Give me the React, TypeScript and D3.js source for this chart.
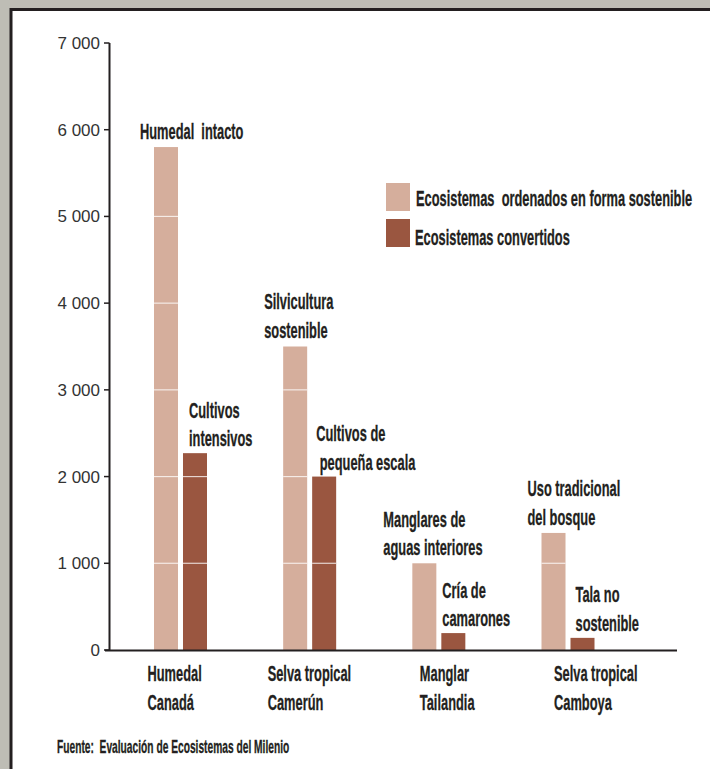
import { useLayoutEffect, useRef, useState } from "react";
import * as d3 from "d3";

// categories (two-line labels under the axis)
const sites = ["Humedal Canadá", "Selva tropical Camerún", "Manglar Tailandia", "Selva tropical Camboya"];
const siteLines = [["Humedal", "Canadá"], ["Selva tropical", "Camerún"], ["Manglar", "Tailandia"], ["Selva tropical", "Camboya"]];

// series values (US$ per hectare)
const series = ["sostenible", "convertido"];
const sustainable = [5800, 3500, 1000, 1350];
const converted = [2270, 2000, 195, 140];

const sustainableNotes = [["Humedal  intacto"], ["Silvicultura", "sostenible"], ["Manglares de", "aguas interiores"], ["Uso tradicional", "del bosque"]];
const convertedNotes = [["Cultivos", "intensivos"], ["Cultivos de", " pequeña escala"], ["Cría de", "camarones"], ["Tala no", "sostenible"]];

const legendLabels = ["Ecosistemas  ordenados en forma sostenible", "Ecosistemas convertidos"];
const yTicks = [0, 1000, 2000, 3000, 4000, 5000, 6000, 7000];
const source = "Fuente:  Evaluación de Ecosistemas del Milenio";

const W = 710;
const H = 769;
const LIGHT = "#d5ae9c";
const DARK = "#9a5640";
const INK = "#231f20";
const COND = "'Liberation Sans Narrow', 'Liberation Sans', Arial, sans-serif";
const FS = 22;

// note placement: horizontal shift from bar left edge
const sustNoteDx = [-14, -19, -29, -14];
const convNoteDx = [6, 4, 1, 5];
const siteDx = [-33, -42, -19, -14];

function Cond({ x, y, sx, size = FS, children }: { x: number; y: number; sx: number; size?: number; children: string }) {
  return (
    <text
      transform={`translate(${x},${y}) scale(${sx},1)`}
      fontFamily={COND}
      fontWeight="bold"
      fontSize={size}
      fill={INK}
      stroke={INK}
      strokeWidth={0.3}
      style={{ whiteSpace: "pre" }}
    >
      {children}
    </text>
  );
}

export default function App() {
  const measureRef = useRef<SVGTextElement>(null);
  const [sx, setSx] = useState(0.68);

  useLayoutEffect(() => {
    const w = measureRef.current?.getComputedTextLength();
    if (w) setSx(155 / w);
  }, []);

  const y = d3.scaleLinear().domain([0, 7000]).range([650, 43]);
  const x = d3.scalePoint<string>().domain(sites).range([180.5, 568]);
  const sub = d3.scaleBand<string>().domain(series).range([-26.5, 26.5]).paddingInner(0.172);
  const bw = sub.bandwidth();

  const bars = sites.flatMap((s, i) => [
    { site: s, i, key: "sostenible", v: sustainable[i], color: LIGHT },
    { site: s, i, key: "convertido", v: converted[i], color: DARK },
  ]);

  const lineH = 28.5;

  return (
    <svg width={W} height={H} style={{ position: "absolute", left: 0, top: 0 }}>
      <rect x={0} y={0} width={W} height={H} fill="#bebdb5" />
      <rect x={11} y={9.5} width={W + 20} height={H + 20} fill="#fff" stroke={INK} strokeWidth={3} />

      <text ref={measureRef} fontFamily={COND} fontWeight="bold" fontSize={FS} opacity={0}>
        {legendLabels[1]}
      </text>

      {/* bars with white lines at each thousand */}
      {bars.map((b) => {
        const bx = (x(b.site) as number) + (sub(b.key) as number);
        return (
          <g key={b.site + b.key}>
            <rect x={bx} y={y(b.v)} width={bw} height={y(0) - y(b.v)} fill={b.color} />
            {yTicks
              .filter((t) => t > 0 && t < b.v)
              .map((t) => (
                <line key={t} x1={bx} x2={bx + bw} y1={y(t)} y2={y(t)} stroke="#fff" strokeOpacity={0.75} strokeWidth={1.2} />
              ))}
          </g>
        );
      })}

      {/* y axis */}
      <line x1={109.5} x2={109.5} y1={y(7000)} y2={y(0)} stroke={INK} strokeWidth={2} />
      {yTicks.map((t) => (
        <g key={t}>
          <line x1={104} x2={109.5} y1={y(t)} y2={y(t)} stroke={INK} strokeWidth={1.5} />
          <text x={100} y={y(t) + 6} textAnchor="end" fontFamily="'Liberation Sans', Arial, sans-serif" fontSize={17} fill="#333">
            {d3.format(",")(t).replace(/,/g, " ")}
          </text>
        </g>
      ))}
      {/* x axis */}
      <line x1={105} x2={677} y1={y(0) + 0.5} y2={y(0) + 0.5} stroke={INK} strokeWidth={2} />

      {/* notes above bars */}
      {sustainableNotes.map((lines, i) => {
        const bx = (x(sites[i]) as number) + (sub("sostenible") as number);
        const base = y(sustainable[i]) - (i === 1 ? 9 : 8);
        return lines.map((l, j) => (
          <Cond key={"s" + i + j} x={bx + sustNoteDx[i]} y={base - (lines.length - 1 - j) * lineH} sx={sx}>
            {l}
          </Cond>
        ));
      })}
      {convertedNotes.map((lines, i) => {
        const bx = (x(sites[i]) as number) + (sub("convertido") as number);
        const base = y(converted[i]) - 7;
        return lines.map((l, j) => (
          <Cond key={"c" + i + j} x={bx + convNoteDx[i]} y={base - (lines.length - 1 - j) * lineH} sx={sx}>
            {l}
          </Cond>
        ));
      })}

      {/* category labels */}
      {siteLines.map((lines, i) =>
        lines.map((l, j) => (
          <Cond key={"k" + i + j} x={(x(sites[i]) as number) + siteDx[i]} y={681 + j * 29} sx={sx}>
            {l}
          </Cond>
        ))
      )}

      {/* legend */}
      {legendLabels.map((l, i) => (
        <g key={l}>
          <rect x={386} y={183 + i * 36} width={24} height={28} fill={i === 0 ? LIGHT : DARK} />
          <Cond x={416 - i} y={206 + i * 39} sx={sx}>
            {l}
          </Cond>
        </g>
      ))}

      <Cond x={57} y={753} sx={sx} size={17.5}>
        {source}
      </Cond>
    </svg>
  );
}
